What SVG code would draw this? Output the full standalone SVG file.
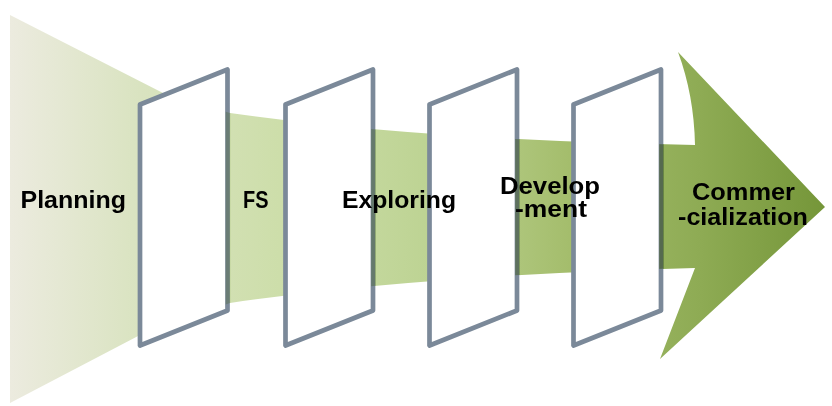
<svg xmlns="http://www.w3.org/2000/svg" width="832" height="406" viewBox="0 0 832 406">
  <defs>
    <linearGradient id="flow" gradientUnits="userSpaceOnUse" x1="10" y1="0" x2="825" y2="0">
      <stop offset="0" stop-color="#ecebdf"/>
      <stop offset="0.16" stop-color="#d9e3c0"/>
      <stop offset="0.33" stop-color="#cddeaa"/>
      <stop offset="0.515" stop-color="#bdd393"/>
      <stop offset="0.687" stop-color="#a4bd6c"/>
      <stop offset="0.847" stop-color="#8eab54"/>
      <stop offset="1" stop-color="#759639"/>
    </linearGradient>
    <!-- funnel narrowing into the arrow -->
    <path id="funnel" d="M10,15 L163,93 L230,113 Q420,140 695,145 Q694,95 678,52 L825,207 L660,359 L695,268 Q420,275 230,303 L140,335 L10,403 Z"/>
    <polygon id="gate" points="0,104.5 87.5,69.5 87.5,310.5 0,345.5"/>
    <clipPath id="rightEdges">
      <rect x="225.7" y="60" width="4.6" height="260"/>
      <rect x="371.2" y="60" width="4.6" height="260"/>
      <rect x="515.2" y="60" width="4.6" height="260"/>
      <rect x="659.2" y="60" width="4.6" height="260"/>
    </clipPath>
  </defs>
  <style>
    .gate { fill: #ffffff; stroke: #7b8999; stroke-width: 4.7; stroke-linejoin: round; }
    .label { font-family: "Liberation Sans", Arial, sans-serif; font-weight: bold; font-size: 24px; fill: #000000; }
  </style>

  <use href="#funnel" fill="url(#flow)"/>

  <g id="gate-1"><use href="#gate" class="gate" x="140"/></g>
  <g id="gate-2"><use href="#gate" class="gate" x="285.5"/></g>
  <g id="gate-3"><use href="#gate" class="gate" x="429.5"/></g>
  <g id="gate-4"><use href="#gate" class="gate" x="573.5"/></g>

  <!-- band passes over the right-hand frame edges -->
  <g clip-path="url(#rightEdges)" style="mix-blend-mode:multiply" opacity="0.75">
    <use href="#funnel" fill="url(#flow)"/>
  </g>

  <g id="labels">
    <text class="label" x="20.5" y="208" textLength="105.5" lengthAdjust="spacingAndGlyphs">Planning</text>
    <text class="label" x="243" y="208" textLength="25.5" lengthAdjust="spacingAndGlyphs">FS</text>
    <text class="label" x="342" y="207.5" textLength="114" lengthAdjust="spacingAndGlyphs">Exploring</text>
    <text class="label" x="500" y="194" textLength="100" lengthAdjust="spacingAndGlyphs">Develop</text>
    <text class="label" x="515" y="217" textLength="72" lengthAdjust="spacingAndGlyphs">-ment</text>
    <text class="label" x="692" y="200" textLength="103" lengthAdjust="spacingAndGlyphs">Commer</text>
    <text class="label" x="678" y="224.5" textLength="130" lengthAdjust="spacingAndGlyphs">-cialization</text>
  </g>
</svg>
